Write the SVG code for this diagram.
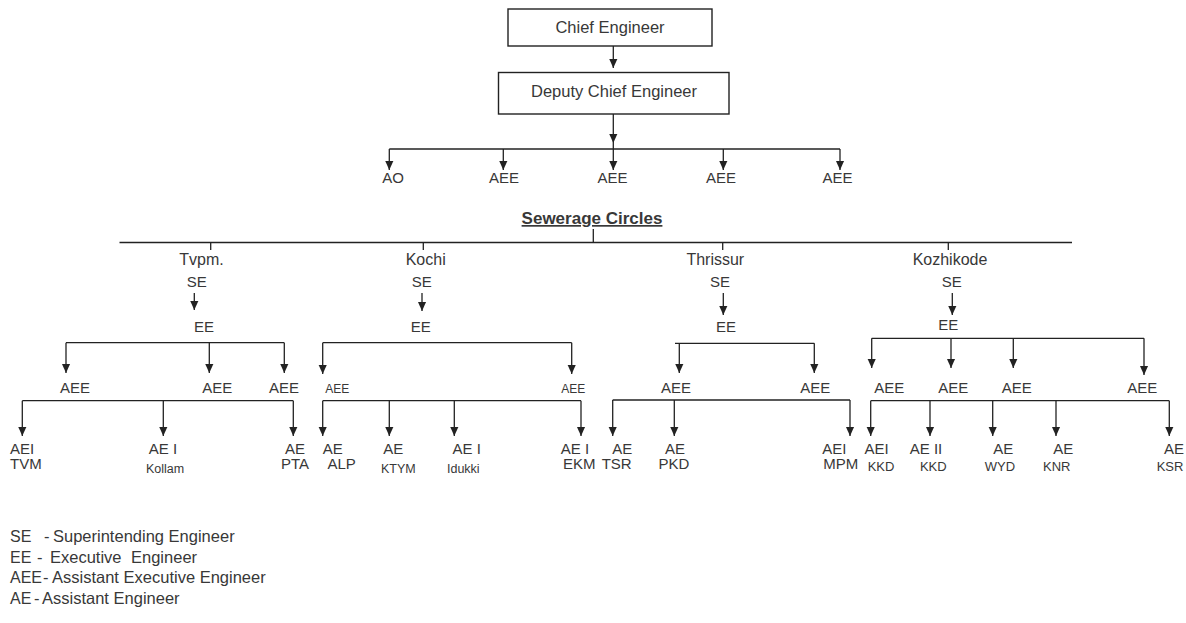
<svg xmlns="http://www.w3.org/2000/svg" width="1186" height="623" viewBox="0 0 1186 623">
<style>
  text { font-family: "Liberation Sans", Arial, sans-serif; fill: #383838; }
  .box { fill: #ffffff; stroke: #222222; stroke-width: 1.4; }
  .bt { font-size: 16.5px; text-anchor: middle; }
  .t15 { font-size: 15px; text-anchor: middle; }
  .t16 { font-size: 16px; text-anchor: middle; }
  .s13 { font-size: 13px; text-anchor: middle; }
  .s12 { font-size: 12.5px; text-anchor: middle; }
  .st { text-anchor: start; }
  .hd { font-size: 17px; font-weight: bold; text-anchor: middle; text-decoration: underline; }
  .lg { font-size: 16.5px; }
  .ab { font-size: 16px; }
  .ln { fill: none; stroke: #222222; stroke-width: 1.3; }
  .ar { fill: none; stroke: #222222; stroke-width: 1.3; marker-end: url(#arr); }
</style>
<defs>
  <marker id="arr" viewBox="0 0 10 10" refX="10" refY="5" markerWidth="9" markerHeight="9" markerUnits="userSpaceOnUse" orient="auto">
    <path d="M0,0.5 L10,5 L0,9.5 z" fill="#222222"/>
  </marker>
</defs>
<rect width="1186" height="623" fill="#ffffff"/>

<g id="connectors">
  <path class="ar" d="M613.3,46 V68"/>
  <path class="ar" d="M613.3,114 V143"/>
  <path class="ln" d="M613.3,143 V149"/>
  <path class="ln" d="M389.3,149 H840"/>
  <path class="ar" d="M389.3,149 V170"/>
  <path class="ar" d="M503.3,149 V170"/>
  <path class="ar" d="M613.3,149 V170"/>
  <path class="ar" d="M723.3,149 V170"/>
  <path class="ar" d="M840,149 V170"/>

  <path class="ln" d="M593.3,229 V242.5"/>
  <path class="ln" d="M119.5,242.5 H1072"/>
  <path class="ln" d="M210.7,242.5 V250"/>
  <path class="ln" d="M423.3,242.5 V250"/>
  <path class="ln" d="M722.7,242.5 V250"/>
  <path class="ln" d="M948.3,242.5 V250"/>

  <path class="ar" d="M194.3,293 V310"/>
  <path class="ar" d="M422,293 V311"/>
  <path class="ar" d="M723.3,293 V315"/>
  <path class="ar" d="M952.3,293 V315"/>

  <!-- Tvpm level 2 -->
  <path class="ln" d="M66,342.7 H284.3"/>
  <path class="ar" d="M66,342.7 V373"/>
  <path class="ar" d="M209.3,342.7 V373"/>
  <path class="ar" d="M284.3,342.7 V373"/>
  <!-- Kochi level 2 -->
  <path class="ln" d="M322.7,342.7 H571.7"/>
  <path class="ar" d="M322.7,342.7 V374"/>
  <path class="ar" d="M571.7,342.7 V374"/>
  <!-- Thrissur level 2 -->
  <path class="ln" d="M675,343.3 H814.3"/>
  <path class="ar" d="M679.3,343.3 V373"/>
  <path class="ar" d="M814.3,343.3 V373"/>
  <!-- Kozhikode level 2 -->
  <path class="ln" d="M871.7,338.3 H1144"/>
  <path class="ar" d="M871.7,338.3 V368"/>
  <path class="ar" d="M951,338.3 V368"/>
  <path class="ar" d="M1013.3,338.3 V368"/>
  <path class="ar" d="M1144,338.3 V375"/>

  <!-- Tvpm level 3 -->
  <path class="ln" d="M22.3,400.7 H293.3"/>
  <path class="ar" d="M22.3,400.7 V436"/>
  <path class="ar" d="M163.3,400.7 V436"/>
  <path class="ar" d="M293.3,400.7 V436"/>
  <!-- Kochi level 3 -->
  <path class="ln" d="M322.7,400.7 H581"/>
  <path class="ar" d="M322.7,400.7 V436"/>
  <path class="ar" d="M389.3,400.7 V436"/>
  <path class="ar" d="M454.3,400.7 V436"/>
  <path class="ar" d="M581,400.7 V436"/>
  <!-- Thrissur level 3 -->
  <path class="ln" d="M612.7,400 H850"/>
  <path class="ar" d="M612.7,400 V436"/>
  <path class="ar" d="M674.3,400 V436"/>
  <path class="ar" d="M850,400 V436"/>
  <!-- Kozhikode level 3 -->
  <path class="ln" d="M870.7,400.7 H1169.3"/>
  <path class="ar" d="M870.7,400.7 V436"/>
  <path class="ar" d="M930,400.7 V436"/>
  <path class="ar" d="M992.7,400.7 V436"/>
  <path class="ar" d="M1056,400.7 V436"/>
  <path class="ar" d="M1169.3,400.7 V436"/>
</g>

<g id="chief-engineer">
  <rect class="box" x="508" y="9" width="204" height="37"/>
  <text class="bt" x="610" y="33">Chief Engineer</text>
</g>
<g id="deputy-chief-engineer">
  <rect class="box" x="498.5" y="72.5" width="230.5" height="41.5"/>
  <text class="bt" x="614" y="97">Deputy Chief Engineer</text>
</g>

<g id="ao"><text class="t15" x="393" y="182.5">AO</text></g>
<g id="aee-top-1"><text class="t15" x="504" y="182.5">AEE</text></g>
<g id="aee-top-2"><text class="t15" x="612.5" y="182.5">AEE</text></g>
<g id="aee-top-3"><text class="t15" x="721" y="182.5">AEE</text></g>
<g id="aee-top-4"><text class="t15" x="837.5" y="182.5">AEE</text></g>

<g id="sewerage-circles"><text class="hd" x="592" y="224">Sewerage Circles</text></g>

<!-- Tvpm circle -->
<g id="tvpm-se">
  <text class="t16" x="201.5" y="265">Tvpm.</text>
  <text class="t15" x="196.7" y="287.3">SE</text>
</g>
<g id="tvpm-ee"><text class="t15" x="204" y="331.7">EE</text></g>
<g id="tvpm-aee-1"><text class="t15" x="75" y="393">AEE</text></g>
<g id="tvpm-aee-2"><text class="t15" x="217.3" y="393">AEE</text></g>
<g id="tvpm-aee-3"><text class="t15" x="284" y="393">AEE</text></g>
<g id="ae-tvm">
  <text class="t15 st" x="10" y="454.3">AEI</text>
  <text class="t15 st" x="10" y="469.3">TVM</text>
</g>
<g id="ae-kollam">
  <text class="t15" x="163" y="454.3">AE I</text>
  <text class="s12" x="165" y="472.7">Kollam</text>
</g>
<g id="ae-pta">
  <text class="t15" x="295" y="454.3">AE</text>
  <text class="t15" x="295" y="469.3">PTA</text>
</g>

<!-- Kochi circle -->
<g id="kochi-se">
  <text class="t16" x="425.7" y="265">Kochi</text>
  <text class="t15" x="421.7" y="287.3">SE</text>
</g>
<g id="kochi-ee"><text class="t15" x="420.7" y="331.7">EE</text></g>
<g id="kochi-aee-1"><text class="s12" style="font-size:12px" x="337.3" y="393">AEE</text></g>
<g id="kochi-aee-2"><text class="s12" style="font-size:12px" x="573.3" y="393">AEE</text></g>
<g id="ae-alp">
  <text class="t15" x="332.7" y="454.3">AE</text>
  <text class="t15" x="341.7" y="469.3">ALP</text>
</g>
<g id="ae-ktym">
  <text class="t15" x="393.3" y="454.3">AE</text>
  <text class="s12" x="398.3" y="472.7">KTYM</text>
</g>
<g id="ae-idukki">
  <text class="t15" x="466.7" y="454.3">AE I</text>
  <text class="s12" x="463.3" y="472.7">Idukki</text>
</g>
<g id="ae-ekm">
  <text class="t15" x="575" y="454.3">AE I</text>
  <text class="t15" x="579.3" y="469.3">EKM</text>
</g>

<!-- Thrissur circle -->
<g id="thrissur-se">
  <text class="t16" x="715.3" y="265">Thrissur</text>
  <text class="t15" x="720" y="287.3">SE</text>
</g>
<g id="thrissur-ee"><text class="t15" x="726" y="331.7">EE</text></g>
<g id="thrissur-aee-1"><text class="t15" x="676" y="393">AEE</text></g>
<g id="thrissur-aee-2"><text class="t15" x="815.3" y="393">AEE</text></g>
<g id="ae-tsr">
  <text class="t15" x="622.3" y="454.3">AE</text>
  <text class="t15" x="616.7" y="469.3">TSR</text>
</g>
<g id="ae-pkd">
  <text class="t15" x="675" y="454.3">AE</text>
  <text class="t15" x="674" y="469.3">PKD</text>
</g>
<g id="ae-mpm">
  <text class="t15" x="834.3" y="454.3">AEI</text>
  <text class="t15" x="840.7" y="469.3">MPM</text>
</g>

<!-- Kozhikode circle -->
<g id="kozhikode-se">
  <text class="t16" x="950" y="265">Kozhikode</text>
  <text class="t15" x="951.7" y="287.3">SE</text>
</g>
<g id="kozhikode-ee"><text class="t15" x="948.3" y="330">EE</text></g>
<g id="kozhikode-aee-1"><text class="t15" x="889.3" y="393">AEE</text></g>
<g id="kozhikode-aee-2"><text class="t15" x="953.3" y="393">AEE</text></g>
<g id="kozhikode-aee-3"><text class="t15" x="1016.7" y="393">AEE</text></g>
<g id="kozhikode-aee-4"><text class="t15" x="1142.3" y="393">AEE</text></g>
<g id="ae-kkd-1">
  <text class="t15" x="876.7" y="454.3">AEI</text>
  <text class="s13" x="881" y="471">KKD</text>
</g>
<g id="ae-kkd-2">
  <text class="t15" x="926" y="454.3">AE II</text>
  <text class="s13" x="933.3" y="471">KKD</text>
</g>
<g id="ae-wyd">
  <text class="t15" x="1003.3" y="454.3">AE</text>
  <text class="s13" x="1000" y="471">WYD</text>
</g>
<g id="ae-knr">
  <text class="t15" x="1063.3" y="454.3">AE</text>
  <text class="s13" x="1056.7" y="471">KNR</text>
</g>
<g id="ae-ksr">
  <text class="t15" x="1174" y="454.3">AE</text>
  <text class="s13" x="1170" y="471">KSR</text>
</g>

<g id="legend">
  <text class="lg" y="541.7"><tspan class="ab" x="10">SE</tspan><tspan x="44">-</tspan><tspan x="53">Superintending Engineer</tspan></text>
  <text class="lg" y="562.7"><tspan class="ab" x="10">EE</tspan><tspan x="37">-</tspan><tspan x="50">Executive</tspan><tspan x="131">Engineer</tspan></text>
  <text class="lg" y="583.3"><tspan class="ab" x="10">AEE</tspan><tspan x="43">-</tspan><tspan x="52">Assistant Executive Engineer</tspan></text>
  <text class="lg" y="604"><tspan class="ab" x="10">AE</tspan><tspan x="34">-</tspan><tspan x="42">Assistant Engineer</tspan></text>
</g>
</svg>
